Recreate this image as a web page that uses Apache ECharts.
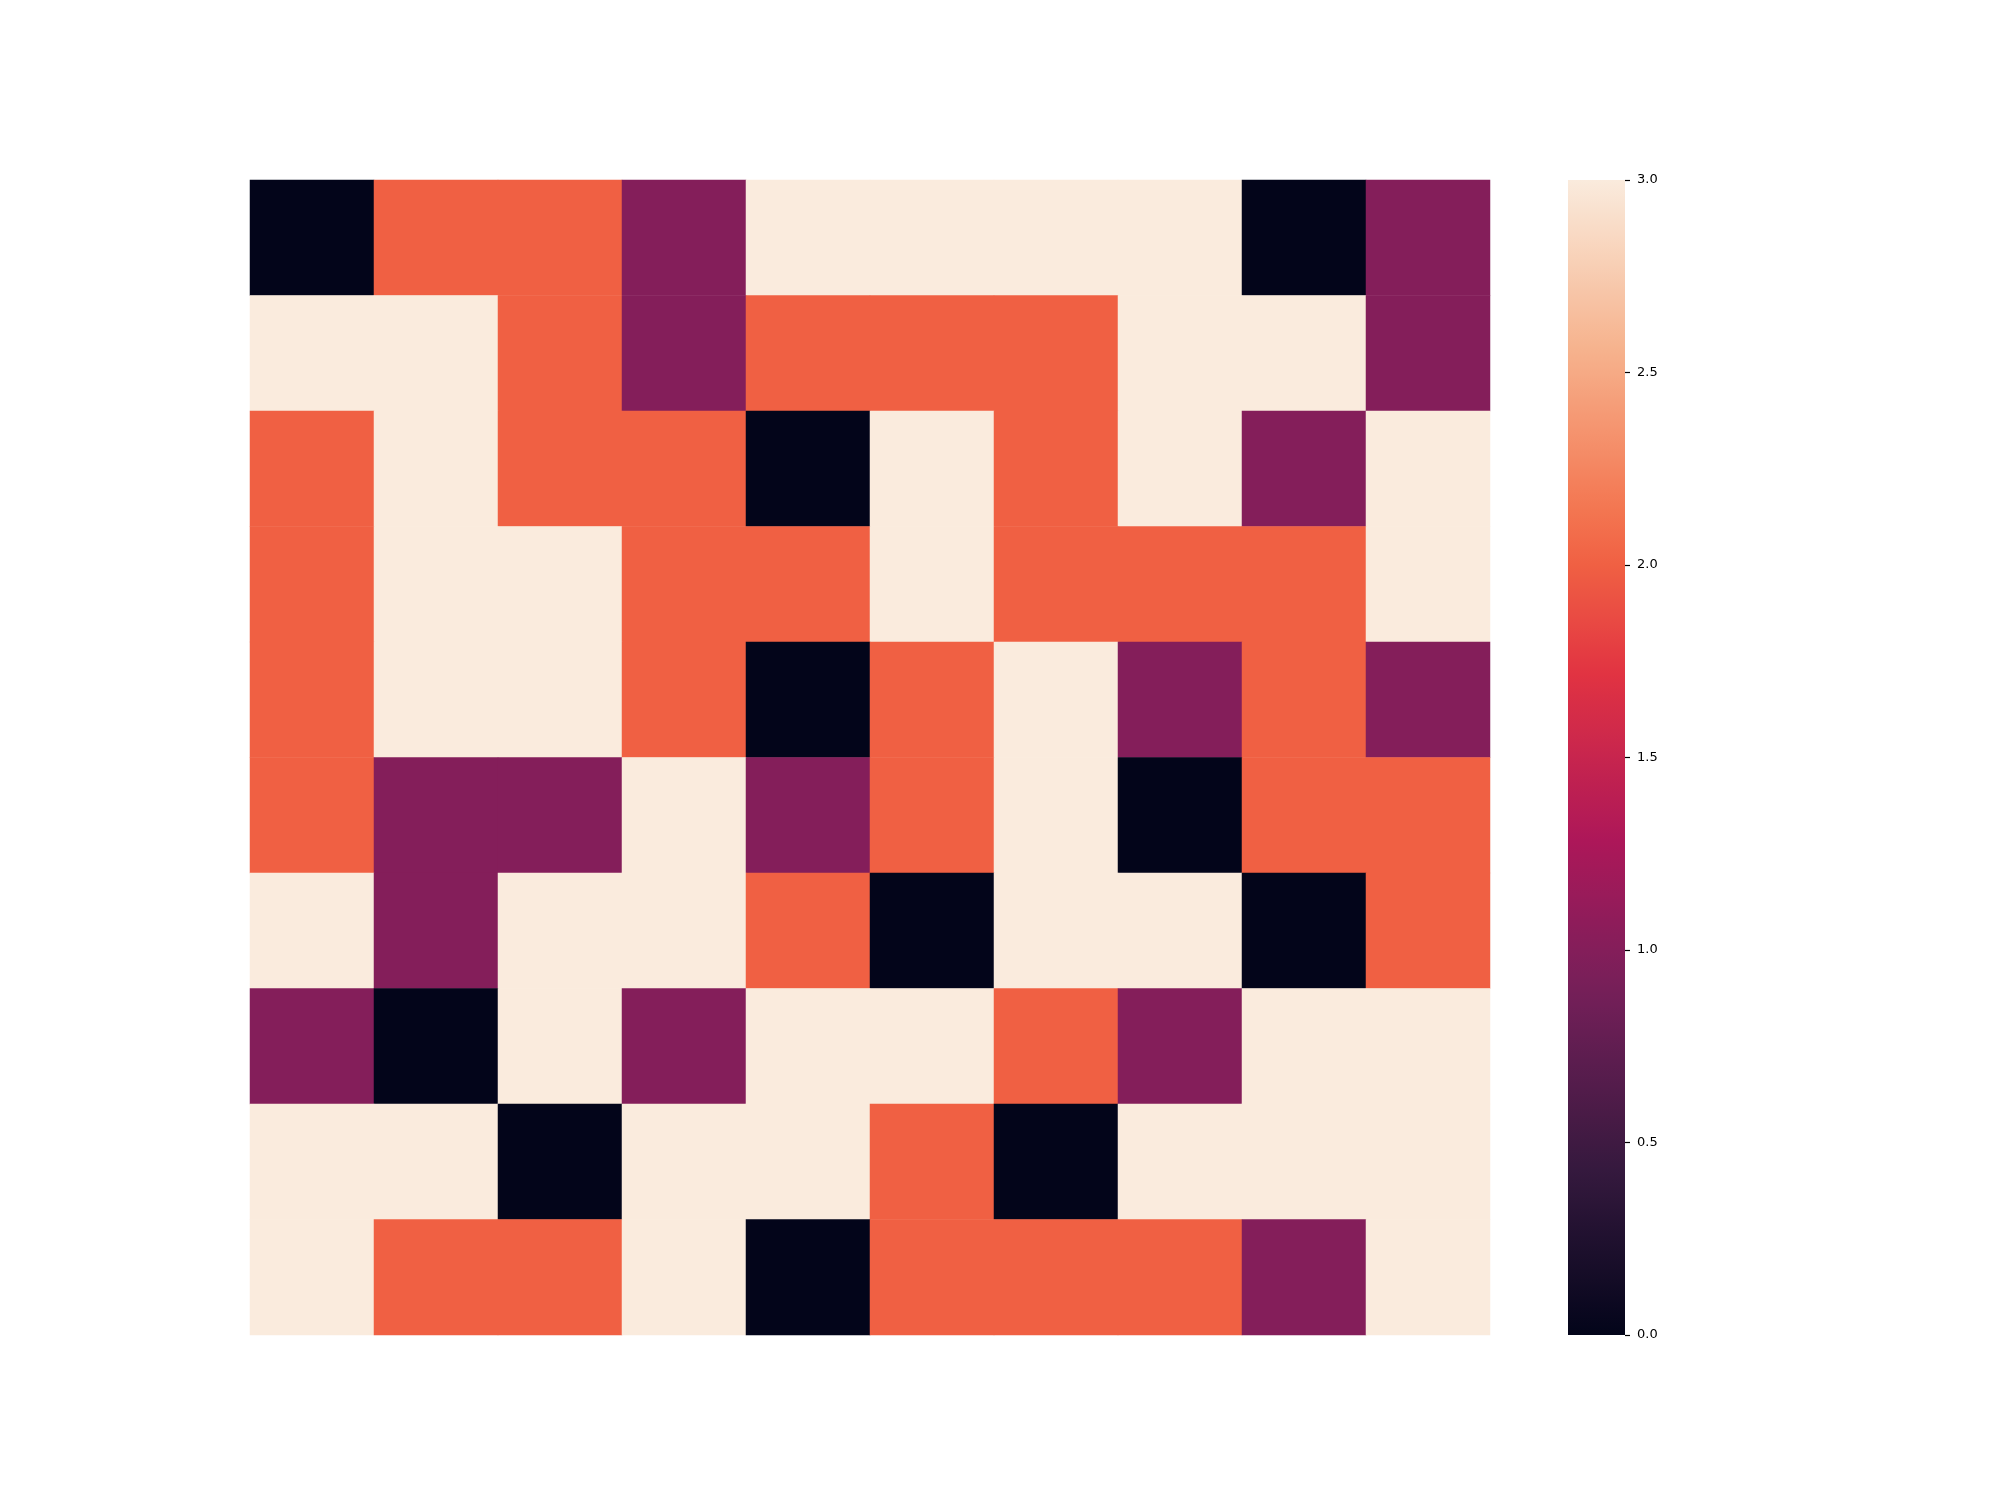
<!DOCTYPE html>
<html lang="en">
<head>
    <meta charset="UTF-8">
    <title>Heatmap</title>
    <script src="https://cdn.jsdelivr.net/npm/echarts/dist/echarts.min.js"></script>
    <style>
        body { margin: 0; background: #fff; }
        #chart { width: 2000px; height: 1500px; }
    </style>
</head>
<body>
<div id="chart"></div>
<script>
    // 10 x 10 grid, row 0 is the top row
    var xCategories = ['0', '1', '2', '3', '4', '5', '6', '7', '8', '9'];
    var yCategories = ['0', '1', '2', '3', '4', '5', '6', '7', '8', '9'];
    var values = [
        [0, 2, 2, 1, 3, 3, 3, 3, 0, 1],
        [3, 3, 2, 1, 2, 2, 2, 3, 3, 1],
        [2, 3, 2, 2, 0, 3, 2, 3, 1, 3],
        [2, 3, 3, 2, 2, 3, 2, 2, 2, 3],
        [2, 3, 3, 2, 0, 2, 3, 1, 2, 1],
        [2, 1, 1, 3, 1, 2, 3, 0, 2, 2],
        [3, 1, 3, 3, 2, 0, 3, 3, 0, 2],
        [1, 0, 3, 1, 3, 3, 2, 1, 3, 3],
        [3, 3, 0, 3, 3, 2, 0, 3, 3, 3],
        [3, 2, 2, 3, 0, 2, 2, 2, 1, 3]
    ];
    var colorbarTicks = [0, 0.5, 1, 1.5, 2, 2.5, 3];

    // rocket-like colormap anchors (position 0..1, colour)
    var rocketStops = [
        [0, '#03051a'], [1 / 7, '#35193e'], [2 / 7, '#701f57'], [1 / 3, '#841e5a'],
        [3 / 7, '#ad1759'], [4 / 7, '#e13342'], [2 / 3, '#f06043'], [5 / 7, '#f37651'],
        [6 / 7, '#f6b48f'], [1, '#faebdd']
    ];

    function hexToRgb(h) {
        return [parseInt(h.substr(1, 2), 16), parseInt(h.substr(3, 2), 16), parseInt(h.substr(5, 2), 16)];
    }
    function sampleRamp(n) {
        var out = [];
        for (var i = 0; i < n; i++) {
            var t = i / (n - 1);
            var k = 0;
            while (k < rocketStops.length - 2 && t > rocketStops[k + 1][0]) k++;
            var a = rocketStops[k], b = rocketStops[k + 1];
            var f = (t - a[0]) / (b[0] - a[0]);
            var ca = hexToRgb(a[1]), cb = hexToRgb(b[1]);
            out.push('rgb(' + ca.map(function (c, j) { return Math.round(c + (cb[j] - c) * f); }).join(',') + ')');
        }
        return out;
    }

    var ramp = sampleRamp(43);
    // gradient for the colorbar: top = max, bottom = min
    var barGradient = new echarts.graphic.LinearGradient(0, 1, 0, 0,
        ramp.map(function (c, i) { return { offset: i / (ramp.length - 1), color: c }; }));

    var heatData = [];
    values.forEach(function (row, y) {
        row.forEach(function (v, x) { heatData.push([x, y, v]); });
    });

    var chart = echarts.init(document.getElementById('chart'));
    chart.setOption({
        animation: false,
        grid: [
            { left: 250, top: 180, width: 1240, height: 1155 },
            { left: 1568, top: 180, width: 57, height: 1155, show: true, borderWidth: 0, backgroundColor: barGradient }
        ],
        xAxis: [
            { type: 'category', data: xCategories, gridIndex: 0, show: false },
            { type: 'value', gridIndex: 1, show: false, min: 0, max: 1 }
        ],
        yAxis: [
            { type: 'category', data: yCategories, gridIndex: 0, inverse: true, show: false },
            {
                // left axis moved onto the bar's right edge; ticks and labels point right
                type: 'value', gridIndex: 1, position: 'left', offset: -57, min: 0, max: 3, interval: 0.5,
                axisLine: { show: false },
                splitLine: { show: false },
                axisTick: { show: true, inside: true, length: 5, lineStyle: { color: '#000', width: 1.2 } },
                axisLabel: {
                    inside: true, margin: 12, fontSize: 13, color: '#000', fontFamily: 'DejaVu Sans',
                    formatter: function (v) { return v.toFixed(1); }
                }
            }
        ],
        visualMap: {
            type: 'continuous',
            show: false,
            min: 0,
            max: 3,
            seriesIndex: 0,
            inRange: { color: ramp }
        },
        series: [{
            type: 'heatmap',
            xAxisIndex: 0,
            yAxisIndex: 0,
            data: heatData,
            itemStyle: { borderWidth: 0 },
            emphasis: { disabled: true }
        }]
    });
</script>
</body>
</html>
